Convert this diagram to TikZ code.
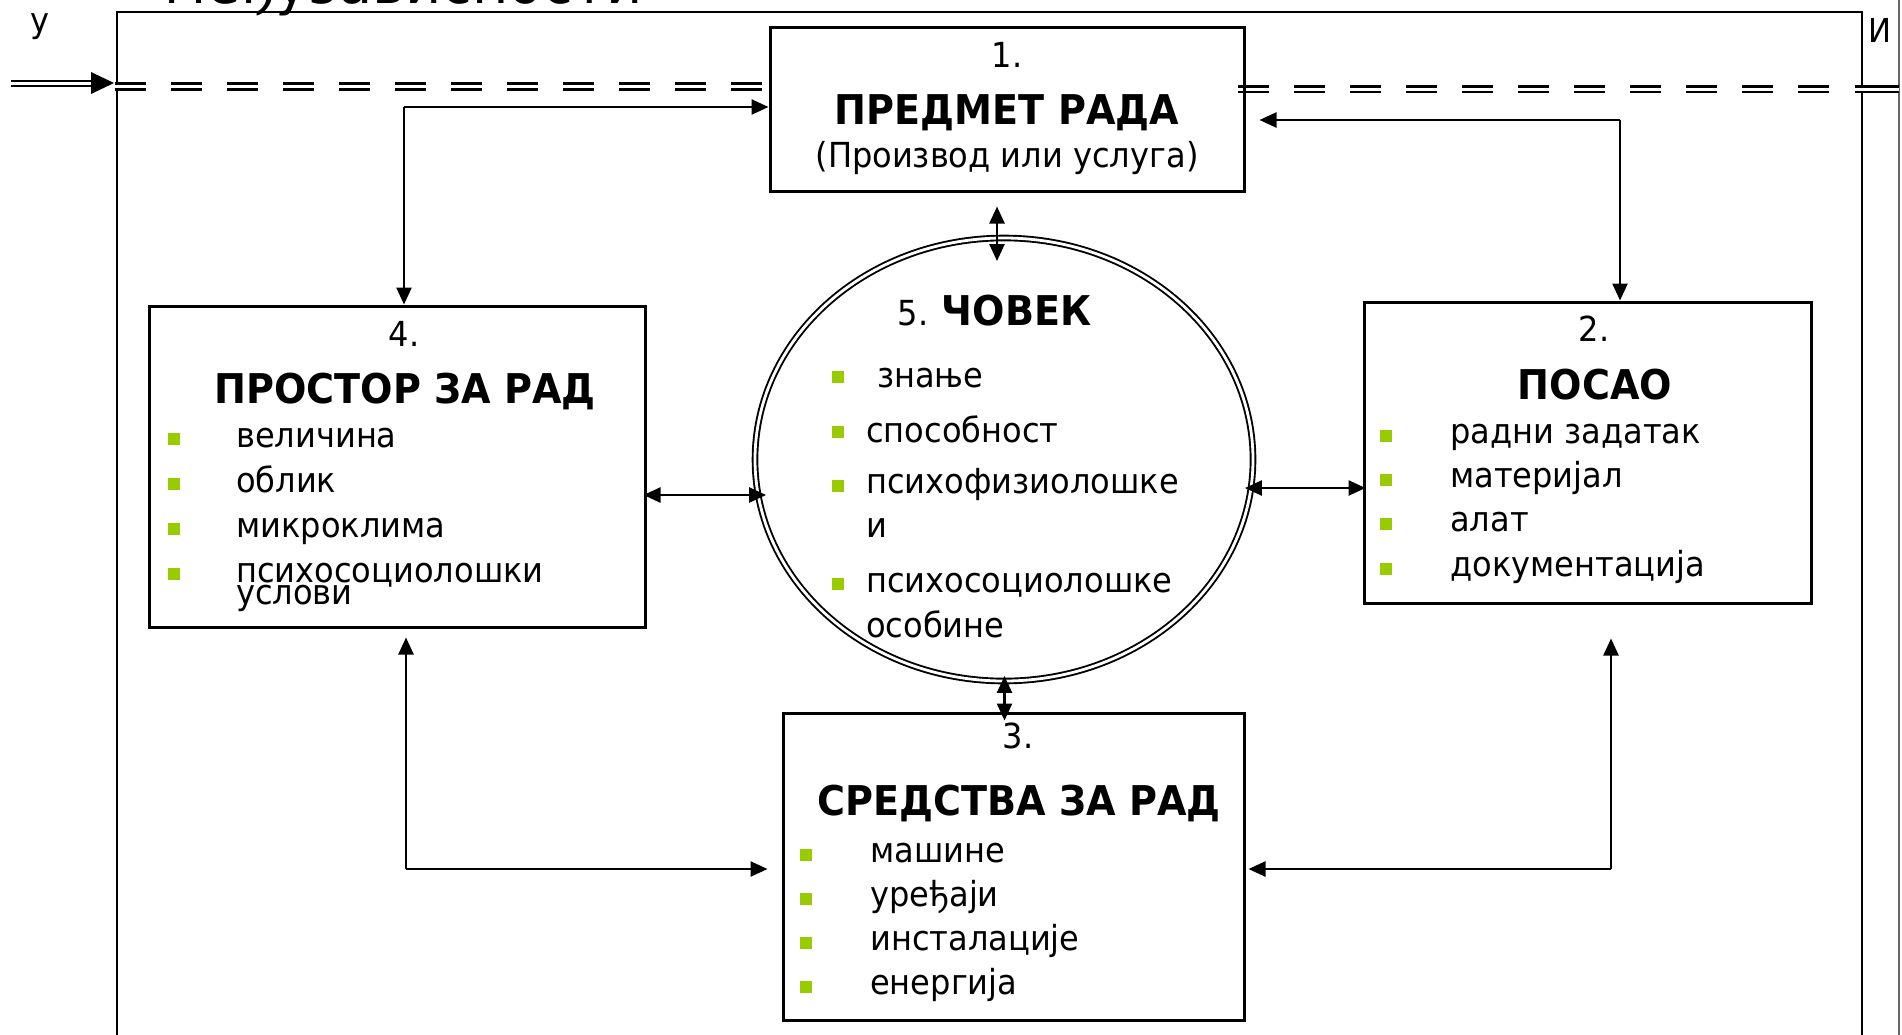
\documentclass[tikz,border=0pt]{standalone}
\usepackage{fontspec}
\setmainfont{DejaVu Sans}[FakeStretch=0.93]
\usetikzlibrary{arrows.meta,shapes.geometric,calc}
\definecolor{bulletgreen}{RGB}{153,204,0}
\begin{document}
\begin{tikzpicture}[x=1pt,y=-1pt,
  boxnode/.style={draw,line width=3pt,rectangle,inner sep=0pt,fill=none},
  txt/.style={inner sep=0pt,font=\fontsize{34.5}{40}\selectfont},
  head/.style={inner sep=0pt,font=\fontsize{41}{46}\selectfont\bfseries,anchor=base},
  item/.style={txt,anchor=base west},
  bul/.style={fill=bulletgreen,inner sep=0pt,minimum size=12.5pt,rectangle},
  arr/.style={line width=2.5pt,-{Triangle[length=17pt,width=15pt]}},
  dbl/.style={line width=2.5pt,{Triangle[length=17pt,width=15pt]}-{Triangle[length=17pt,width=15pt]}},
  dashdbl/.style={draw,line width=2.7pt,double,double distance=3pt,dash pattern=on 31pt off 25pt}
]
\useasboundingbox (0,0) rectangle (1902,1034);

% clipped title
\node[inner sep=0pt,anchor=base west,font=\fontsize{60}{64}\selectfont] (title) at (164,3) {међузависности};

% outer frame and page edge
\draw[line width=2.4pt] (117,1060) -- (117,12) -- (1862,12) -- (1862,1060);
\draw[line width=1.6pt,black!60] (1899,-5) -- (1899,1060);

% side letters
\node[txt,anchor=base west] (lu) at (30,32) {у};
\node[txt,anchor=base west,font=\fontsize{33}{38}\selectfont] (li) at (1868,42) {И};

% input double arrow
\coordinate (inA) at (11,83);
\coordinate (inB) at (92,83);
\draw[line width=2pt,double,double distance=3pt] (inA) -- (inB);
\fill (91,72) -- (114,83) -- (91,94) -- cycle;

% dashed double lines
\draw[dashdbl] (115,86.5) -- (762,86.5);
\draw[dashdbl] (1238,89) -- (1831,89);
\draw[line width=2.7pt,double,double distance=3pt] (1855,89) -- (1899,89);

% boxes
\node[boxnode,minimum width=474pt,minimum height=164pt] (box1) at (1007,109) {};
\node[boxnode,minimum width=496pt,minimum height=321pt] (box4) at (397,466.5) {};
\node[boxnode,minimum width=447pt,minimum height=301pt] (box2) at (1587.5,452.5) {};
\node[boxnode,minimum width=461pt,minimum height=307pt] (box3) at (1013.5,866.5) {};

% ellipse
\node[draw,ellipse,line width=1.9pt,double,double distance=2.8pt,minimum width=498pt,minimum height=443pt,inner sep=0pt] (ell) at (1004,459.5) {};

% box 1 text
\node[txt,anchor=base] (t1n) at (1007,67) {1.};
\node[head] (t1h) at (1007,124) {ПРЕДМЕТ РАДА};
\node[txt,anchor=base] (t1s) at (1007,167) {(Производ или услуга)};

% box 4 text
\node[txt,anchor=base] (t4n) at (404,346) {4.};
\node[head] (t4h) at (405,403) {ПРОСТОР ЗА РАД};
\node[bul] (b41) at (174,439) {};
\node[bul] (b42) at (174,484) {};
\node[bul] (b43) at (174,529) {};
\node[bul] (b44) at (174,574) {};
\node[item] (i41) at (236,447) {величина};
\node[item] (i42) at (236,492) {облик};
\node[item] (i43) at (236,537) {микроклима};
\node[item] (i44) at (236,582) {психосоциолошки};
\node[item] (i45) at (236,604) {услови};

% box 2 text
\node[txt,anchor=base] (t2n) at (1594,341) {2.};
\node[head] (t2h) at (1595,399) {ПОСАО};
\node[bul] (b21) at (1386,436) {};
\node[bul] (b22) at (1386,480) {};
\node[bul] (b23) at (1386,524) {};
\node[bul] (b24) at (1386,569) {};
\node[item] (i21) at (1450,443) {радни задатак};
\node[item] (i22) at (1450,487) {материјал};
\node[item] (i23) at (1450,531) {алат};
\node[item] (i24) at (1450,576) {документација};

% box 3 text
\node[txt,anchor=base] (t3n) at (1018,748) {3.};
\node[head] (t3h) at (1019,815) {СРЕДСТВА ЗА РАД};
\node[bul] (b31) at (806,855) {};
\node[bul] (b32) at (806,899) {};
\node[bul] (b33) at (806,943) {};
\node[bul] (b34) at (806,987) {};
\node[item] (i31) at (870,862) {машине};
\node[item] (i32) at (870,906) {уређаји};
\node[item] (i33) at (870,950) {инсталације};
\node[item] (i34) at (870,994) {енергија};

% ellipse text
\node[txt,anchor=base] (t5h) at (994.5,325) {5. \textbf{\fontsize{41}{46}\selectfont ЧОВЕК}};
\node[bul] (b51) at (838,377) {};
\node[bul] (b52) at (838,432) {};
\node[bul] (b53) at (838,486) {};
\node[bul] (b54) at (838,584) {};
\node[item] (i51) at (877,387) {знање};
\node[item] (i52) at (866,442) {способност};
\node[item] (i53) at (866,493) {психофизиолошке};
\node[item] (i54) at (866,537) {и};
\node[item] (i55) at (866,592) {психосоциолошке};
\node[item] (i56) at (866,637) {особине};

% connectors
\coordinate (c1) at (404,107);
\draw[arr] (c1) -- (c1 |- box4.north);
\draw[arr] (c1) -- (c1 -| box1.west);

\coordinate (c2) at (1620,120);
\draw[arr,shorten >=14pt] (c2) -- (c2 -| box1.east);
\draw[arr] (c2) -- (c2 |- box2.north);

\coordinate (v1) at (997,0);
\draw[dbl,shorten <=14pt,shorten >=-24pt] (box1.south -| v1) -- (ell.north -| v1);

\coordinate (h1) at (0,495);
\draw[dbl,shorten <=-3pt,shorten >=-12pt] (box4.east |- h1) -- (ell.west |- h1);

\coordinate (h2) at (0,488);
\draw[dbl,shorten <=-9pt,shorten >=-3pt] (ell.east |- h2) -- (box2.west |- h2);

\coordinate (v2) at (1004.5,0);
\draw[dbl,shorten <=-6pt,shorten >=-9pt] (ell.south -| v2) -- (box3.north -| v2);

\coordinate (c3) at (406,869);
\draw[arr,shorten >=9pt] (c3) -- (c3 |- box4.south);
\draw[arr,shorten >=14pt] (c3) -- (c3 -| box3.west);

\coordinate (c4) at (1611,869);
\draw[arr,shorten >=34pt] (c4) -- (c4 |- box2.south);
\draw[arr,shorten >=3pt] (c4) -- (c4 -| box3.east);
\end{tikzpicture}
\end{document}
